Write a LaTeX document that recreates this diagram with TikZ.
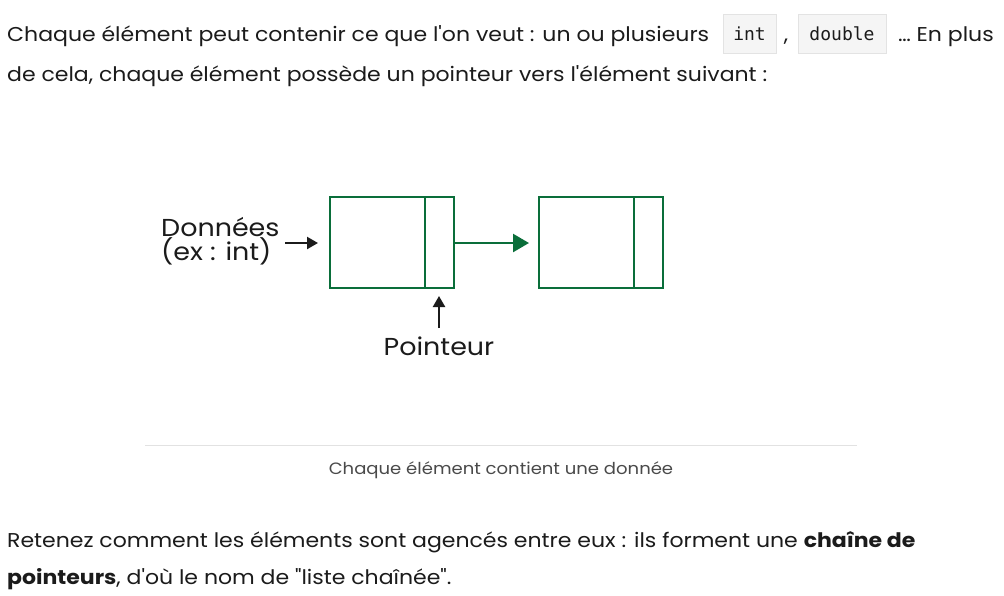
\documentclass[tikz,border=0pt]{standalone}
\usepackage{fontspec}
\setmainfont{Poppins}[Ligatures=TeXOff, FakeStretch=1.1]
\setmonofont{DejaVu Sans Mono}
\usetikzlibrary{arrows.meta}
\definecolor{txt}{HTML}{1B1B1B}
\definecolor{grn}{HTML}{0A6E3A}
\definecolor{codebg}{HTML}{F5F5F5}
\definecolor{codebd}{HTML}{E3E3E3}
\definecolor{rule}{HTML}{E2E2E2}
\definecolor{cap}{HTML}{4A4A4A}
\tikzset{
  body/.style={font=\fontsize{20}{24}\selectfont, text=txt, inner sep=0pt},
  codebox/.style={fill=codebg, draw=codebd, line width=0.8pt, font=\ttfamily\fontsize{18}{22}\selectfont, text=txt, inner sep=0pt},
  cell/.style={draw=grn, line width=2.5pt},
  lbl/.style={font=\fontsize{24.5}{26}\selectfont, text=txt, inner sep=0pt},
  garrow/.style={draw=grn, line width=2.5pt, -{Triangle[length=16pt,width=18pt]}},
  barrow/.style={draw=txt, line width=2.3pt, -{Triangle[length=11pt,width=12pt]}},
}
\begin{document}
\begin{tikzpicture}[x=1pt,y=-1pt]
\useasboundingbox (0,0) rectangle (1004,595);
\fill[white] (0,0) rectangle (1004,595);
% paragraph 1
\node[body, anchor=base west] (p1a) at (7,41) {Chaque élément peut contenir ce que l'on veut : un ou plusieurs};
\node[codebox, minimum width=53pt, minimum height=39pt] (c1) at (749.5,33.5) {int};
\node[body, anchor=base] (comma) at (786,41) {,};
\node[codebox, minimum width=88pt, minimum height=39pt] (c2) at (842,33.5) {double};
\node[body, anchor=base east] (p1b) at (994,41) {… En plus};
\node[body, anchor=base west] (p2) at (7,81) {de cela, chaque élément possède un pointeur vers l'élément suivant :};
% diagram
\node[cell, minimum width=124pt, minimum height=91pt, inner sep=0pt] (e1) at (392,242.5) {};
\node[cell, minimum width=124pt, minimum height=91pt, inner sep=0pt] (e2) at (601,242.5) {};
\coordinate (d1t) at (425,197);
\coordinate (d1b) at (425,288);
\coordinate (d2t) at (634,197);
\coordinate (d2b) at (634,288);
\draw[cell] (d1t) -- (d1b);
\draw[cell] (d2t) -- (d2b);
\coordinate (a1s) at (454,243);
\coordinate (a1e) at (529,243);
\draw[garrow] (a1s) -- (a1e);
\node[lbl, anchor=base west] (don) at (161,236) {Données};
\node[lbl, anchor=base west] (ex) at (161,260) {(ex : int)};
\coordinate (b1s) at (285,243);
\coordinate (b1e) at (318,243);
\draw[barrow] (b1s) -- (b1e);
\node[lbl, anchor=base] (ptr) at (439,355) {Pointeur};
\coordinate (b2s) at (439,328);
\coordinate (b2e) at (439,296);
\draw[barrow] (b2s) -- (b2e);
% rule and caption
\coordinate (r1) at (145,445.5);
\coordinate (r2) at (857,445.5);
\draw[rule, line width=1pt] (r1) -- (r2);
\node[font=\fontsize{16.4}{18}\selectfont, text=cap, inner sep=0pt, anchor=base] (capt) at (501,474) {Chaque élément contient une donnée};
% paragraph 2
\node[body, anchor=base west] (p3) at (7,547) {Retenez comment les éléments sont agencés entre eux : ils forment une \textbf{chaîne de}};
\node[body, anchor=base west] (p4) at (7,584) {\textbf{pointeurs}, d'où le nom de "liste chaînée".};
\end{tikzpicture}
\end{document}
